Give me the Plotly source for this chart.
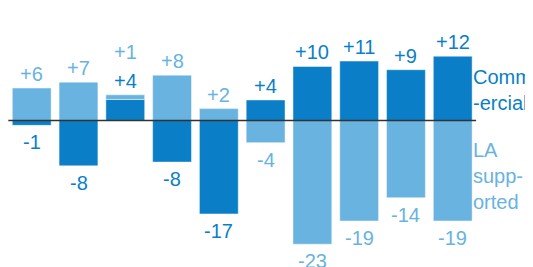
import plotly.graph_objects as go

categories = ["1", "2", "3", "4", "5", "6", "7", "8", "9", "10"]
commercial = [-0.9, -8.4, 3.9, -7.7, -17.3, 3.8, 10.0, 11.0, 9.4, 11.9]
la_supported = [6.0, 7.1, 0.85, 8.4, 2.2, -4.1, -22.9, -18.6, -14.3, -18.6]
series_names = ["Comm<br>-ercial", "LA<br>supp-<br>orted"]

DARK = "#0a7fc8"
LIGHT = "#68b3e0"
FONT = "Liberation Sans, Arial, sans-serif"

x = list(range(len(categories)))

fig = go.Figure()
for vals, col in [(commercial, DARK), (la_supported, LIGHT)]:
    fig.add_trace(go.Bar(
        x=x, y=vals, marker=dict(color=col, line=dict(color="rgba(255,255,255,0.45)", width=1)),
        showlegend=False, hoverinfo="skip"))

annotations = []
for i in x:
    pos_top = sum(v for v in (commercial[i], la_supported[i]) if v > 0)
    neg_bot = sum(v for v in (commercial[i], la_supported[i]) if v < 0)
    k_pos = 0
    k_neg = 0
    for vals, col in [(commercial, DARK), (la_supported, LIGHT)]:
        v = vals[i]
        txt = f"{v:+.0f}"
        if v >= 0:
            annotations.append(dict(x=i, y=pos_top, text=txt, showarrow=False, xanchor="center",
                                    yanchor="middle", yshift=14 + 28.5 * k_pos,
                                    font=dict(family=FONT, size=20, color=col)))
            k_pos += 1
        else:
            annotations.append(dict(x=i, y=neg_bot, text=txt, showarrow=False, xanchor="center",
                                    yanchor="middle", yshift=-17 - 28 * k_neg,
                                    font=dict(family=FONT, size=20, color=col)))
            k_neg += 1

annotations.append(dict(x=9.41, y=5.65, text=series_names[0], showarrow=False, xanchor="left",
                        yanchor="middle", align="left", borderpad=0,
                        font=dict(family=FONT, size=20, color=DARK)))
annotations.append(dict(x=9.41, y=-10.2, text=series_names[1], showarrow=False, xanchor="left",
                        yanchor="middle", align="left", borderpad=0,
                        font=dict(family=FONT, size=20, color=LIGHT)))

fig.update_layout(
    barmode="relative",
    bargap=0.17,
    width=533, height=267,
    margin=dict(l=0, r=0, t=0, b=0),
    paper_bgcolor="white", plot_bgcolor="white",
    xaxis=dict(range=[-0.507, 10.887], visible=False, fixedrange=True),
    yaxis=dict(range=[-28.61, 20.83], visible=False, fixedrange=True),
    annotations=annotations,
    shapes=[dict(type="line", xref="x", yref="y", x0=-0.5, x1=9.5, y0=0, y1=0,
                 line=dict(color="#333333", width=1.5))],
)

fig.write_html("out.html")
